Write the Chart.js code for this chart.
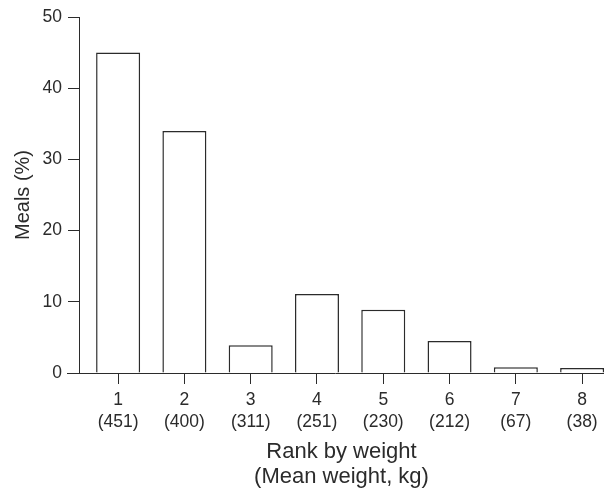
<!DOCTYPE html>
<html>
<head>
<meta charset="utf-8">
<script src="https://cdn.jsdelivr.net/npm/chart.js@4/dist/chart.umd.min.js"></script>
<style>
  html, body { margin: 0; padding: 0; background: #fff; }
  #wrap { width: 607px; height: 492px; }
</style>
</head>
<body>
<div id="wrap"><canvas id="c" width="607" height="492"></canvas></div>
<script>
// Rank of prey by body weight, with mean weight (kg) in brackets
const ranks = [1, 2, 3, 4, 5, 6, 7, 8];
const meanWeights = [451, 400, 311, 251, 230, 212, 67, 38];
// Share of meals (%) for each rank
const mealsPct = [45, 34, 3.9, 11.1, 8.9, 4.5, 0.8, 0.7];
// Value-axis ticks
const yTicks = [0, 10, 20, 30, 40, 50];

const INK = '#2b2b2b';
const FONT = '"Liberation Sans", Arial, Helvetica, sans-serif';

// Baseline drawn across from the start of the y tick marks
const baseline = {
  id: 'baseline',
  afterDraw(chart) {
    const { ctx, chartArea, scales } = chart;
    const y = Math.round(scales.y.getPixelForValue(0)) + 0.5;
    ctx.save();
    ctx.strokeStyle = INK;
    ctx.lineWidth = 1;
    ctx.beginPath();
    ctx.moveTo(chartArea.left - 12, y);
    ctx.lineTo(chartArea.right, y);
    ctx.stroke();
    ctx.restore();
  }
};

new Chart(document.getElementById('c'), {
  type: 'bar',
  data: {
    datasets: [{
      data: ranks.map((r, i) => ({ x: r, y: mealsPct[i] })),
      backgroundColor: '#ffffff',
      borderColor: INK,
      borderWidth: 1.5,
      categoryPercentage: 1,
      barPercentage: 0.664
    }]
  },
  options: {
    responsive: false,
    animation: false,
    layout: { padding: { top: 17, right: 3, left: 0, bottom: 0 } },
    plugins: { legend: { display: false }, tooltip: { enabled: false } },
    scales: {
      x: {
        type: 'linear',
        min: 0.41,
        max: 8.33,
        offset: false,
        afterBuildTicks: (axis) => { axis.ticks = ranks.map(v => ({ value: v })); },
        afterFit: (axis) => { axis.height = 119; },
        border: { display: false },
        grid: { offset: false, drawOnChartArea: false, tickLength: 11, color: INK, lineWidth: 1 },
        ticks: {
          autoSkip: false,
          maxRotation: 0,
          padding: 5,
          color: INK,
          font: { family: FONT, size: 17.5, lineHeight: 1.25 },
          callback: (v) => {
            const i = ranks.indexOf(v);
            return i < 0 ? '' : [String(v), '(' + meanWeights[i] + ')'];
          }
        },
        title: {
          display: true,
          text: ['Rank by weight', '(Mean weight, kg)'],
          color: INK,
          font: { family: FONT, size: 22, lineHeight: 1.12 },
          padding: { top: 4, bottom: 3 }
        }
      },
      y: {
        min: 0,
        max: 50,
        afterBuildTicks: (axis) => { axis.ticks = yTicks.map(v => ({ value: v })); },
        afterFit: (axis) => { axis.width = 79; },
        border: { display: true, color: INK, width: 1 },
        grid: { drawOnChartArea: false, tickLength: 11, color: INK, lineWidth: 1 },
        ticks: {
          padding: 6,
          color: INK,
          font: { family: FONT, size: 17.5 }
        },
        title: {
          display: true,
          text: 'Meals (%)',
          color: INK,
          font: { family: FONT, size: 20 },
          padding: { top: 11, bottom: 4 }
        }
      }
    }
  },
  plugins: [baseline]
});
</script>
</body>
</html>
